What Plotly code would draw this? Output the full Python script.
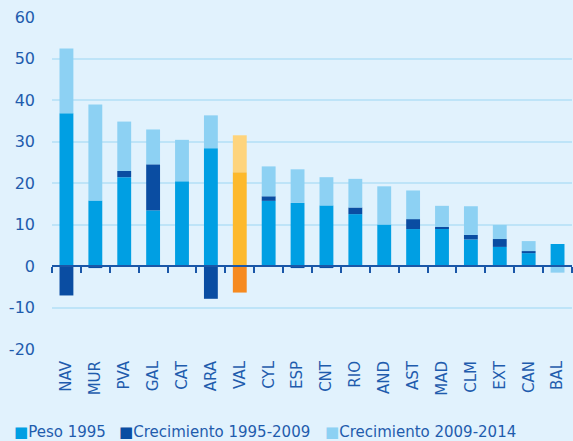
import plotly.graph_objects as go

# Comunidades autónomas, ordered by total height
regiones = ["NAV", "MUR", "PVA", "GAL", "CAT", "ARA", "VAL", "CYL", "ESP",
            "CNT", "RIO", "AND", "AST", "MAD", "CLM", "EXT", "CAN", "BAL"]

peso_1995 = [36.8, 15.8, 21.4, 13.4, 20.4, 28.4, 22.6, 15.7, 15.2,
             14.6, 12.5, 10.0, 8.9, 9.0, 6.4, 4.6, 3.1, 5.3]
crec_1995_2009 = [-7.1, -0.5, 1.5, 11.1, 0.0, -7.9, -6.4, 1.1, -0.5,
                  -0.5, 1.6, 0.0, 2.4, 0.4, 1.1, 1.9, 0.5, 0.0]
crec_2009_2014 = [15.6, 23.1, 11.9, 8.4, 10.0, 7.9, 8.9, 7.2, 8.1,
                  6.8, 6.9, 9.2, 6.9, 5.1, 6.9, 3.4, 2.4, -1.6]

y_ticks = [-20, -10, 0, 10, 20, 30, 40, 50, 60]

series = ["Peso 1995", "Crecimiento 1995-2009", "Crecimiento 2009-2014"]
base_colors = ["#009FE3", "#0A4DA2", "#8DD1F3"]
highlight = "VAL"
highlight_colors = ["#FDB92C", "#F68A1F", "#FED47C"]

BG = "#E1F2FD"
TEXT = "#1F5CAD"
AXIS = "#1A57A8"
GRID = "#BEE4F8"
FONT = "DejaVu Sans"

fig = go.Figure()
for name, vals, col, hcol in zip(series, [peso_1995, crec_1995_2009, crec_2009_2014],
                                 base_colors, highlight_colors):
    colors = [hcol if r == highlight else col for r in regiones]
    fig.add_trace(go.Bar(x=regiones, y=vals, name=name, marker_color=colors,
                         marker_line_width=0, showlegend=False))

# helper trace so the zero-line axis gets drawn
fig.add_trace(go.Scatter(x=regiones, y=peso_1995, xaxis="x2", mode="markers",
                         marker=dict(opacity=0), hoverinfo="skip", showlegend=False))

yr = [y_ticks[0], y_ticks[-1]]
zero_pos = (0 - yr[0]) / (yr[1] - yr[0])

fig.update_layout(
    width=573, height=441,
    margin=dict(l=52, r=1, t=17, b=92),
    paper_bgcolor=BG, plot_bgcolor=BG,
    barmode="relative", bargap=0.52,
    font=dict(family=FONT, size=15, color=TEXT),
    xaxis=dict(categoryorder="array", categoryarray=regiones,
               range=[-0.5, len(regiones) - 0.5],
               tickangle=-90, showgrid=False, showline=False, ticks="",
               ticklabelstandoff=8, tickfont=dict(size=15, color=TEXT)),
    xaxis2=dict(overlaying="x", anchor="free", position=zero_pos,
                categoryorder="array", categoryarray=regiones,
                range=[-0.5, len(regiones) - 0.5],
                showline=True, linecolor=AXIS, linewidth=2,
                ticks="outside", tickson="boundaries", ticklen=6,
                tickwidth=2, tickcolor=AXIS, showticklabels=False,
                showgrid=False, layer="above traces"),
    yaxis=dict(range=yr, tickvals=y_ticks, ticktext=[str(v) for v in y_ticks],
               showgrid=True, gridcolor=GRID,
               gridwidth=1.5, zeroline=False, showline=False, ticks="",
               ticklabelstandoff=16, tickfont=dict(size=16, color=TEXT)),
)

# legend row below the axis labels
legend_x = [-0.077, 0.1255, 0.5215]
for name, col, lx in zip(series, base_colors, legend_x):
    fig.add_annotation(text=f"<span style='color:{col}'>■</span>{name}",
                       xref="paper", yref="paper", x=lx, y=-0.25,
                       xanchor="left", yanchor="middle", showarrow=False,
                       font=dict(family=FONT, size=15, color=TEXT))

fig.write_html("out.html")
